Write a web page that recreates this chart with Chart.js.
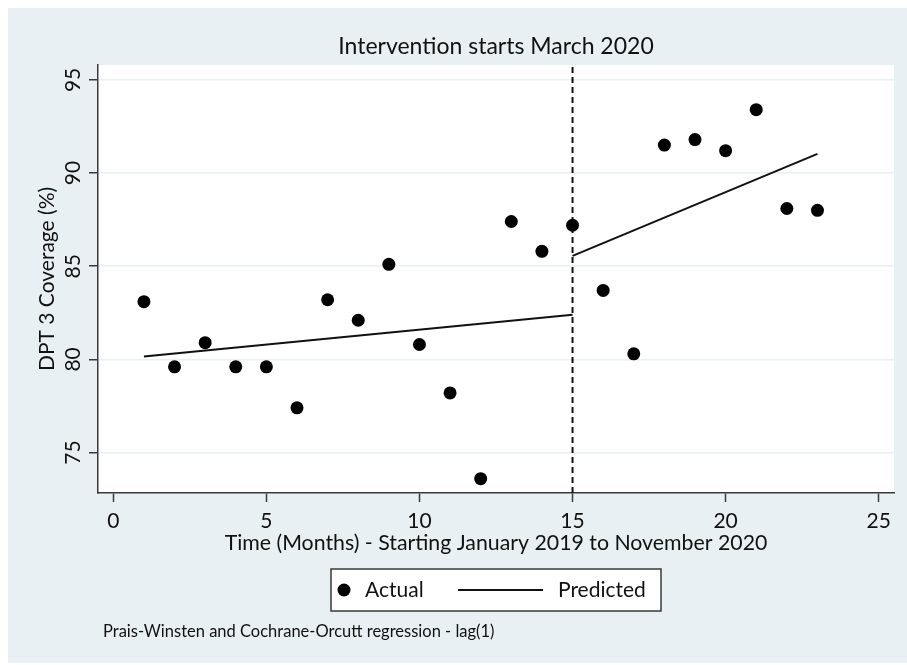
<!DOCTYPE html>
<html>
<head>
<meta charset="utf-8">
<script src="https://cdn.jsdelivr.net/npm/chart.js@4.4.1/dist/chart.umd.min.js"></script>
<style>
  html, body { margin: 0; padding: 0; background: #ffffff; }
  #wrap { width: 907px; height: 665px; position: relative; }
  canvas { display: block; }
</style>
</head>
<body>
<div id="wrap"><canvas id="c" width="907" height="665"></canvas></div>
<script>
// ---- data ----
const months = [1, 2, 3, 4, 5, 6, 7, 8, 9, 10, 11, 12, 13, 14, 15, 16, 17, 18, 19, 20, 21, 22, 23];
const actualCoverage = [83.1, 79.6, 80.9, 79.6, 79.6, 77.4, 83.2, 82.1, 85.1, 80.8, 78.2, 73.6,
                        87.4, 85.8, 87.2, 83.7, 80.3, 91.5, 91.8, 91.2, 93.4, 88.1, 88.0];
const predPreMonths = [1, 15];
const predPreValues = [80.15, 82.4];
const predPostMonths = [15, 23];
const predPostValues = [85.56, 91.03];
const interventionMonth = 15;

const xAxisMin = -0.5, xAxisMax = 25.5, xStep = 5;
const yAxisMin = 72.83, yAxisMax = 95.8, yStep = 5;

const chartTitle = 'Intervention starts March 2020';
const xTitle = 'Time (Months) - Starting January 2019 to November 2020';
const yTitle = 'DPT 3 Coverage (%)';
const legendLabels = ['Actual', 'Predicted'];
const footnote = 'Prais-Winsten and Cochrane-Orcutt regression - lag(1)';

// ---- styles ----
const FONT = 'Lato, "Open Sans", "DejaVu Sans", sans-serif';
const TEXT = '#111111';
const AXIS = '#3a3a3a';
const BG = '#e9f0f3';
const GRID = '#e8f0f3';

Chart.defaults.font.family = FONT;
Chart.defaults.color = TEXT;

const toPts = (xs, ys) => xs.map((x, i) => ({ x: x, y: ys[i] }));

const decorPlugin = {
  id: 'decor',
  beforeDraw(chart) {
    const ctx = chart.ctx, a = chart.chartArea;
    ctx.save();
    ctx.fillStyle = '#ffffff';
    ctx.fillRect(0, 0, chart.width, chart.height);
    ctx.fillStyle = BG;
    ctx.fillRect(8, 8, chart.width - 8, chart.height - 10);
    ctx.fillStyle = '#ffffff';
    ctx.fillRect(a.left, a.top, a.right - a.left, a.bottom - a.top);
    ctx.restore();
  },
  afterDraw(chart) {
    const ctx = chart.ctx, a = chart.chartArea;
    const cx = (a.left + a.right) / 2;
    ctx.save();
    // title
    ctx.fillStyle = TEXT;
    ctx.font = '23px ' + FONT;
    ctx.textAlign = 'center';
    ctx.textBaseline = 'middle';
    ctx.fillText(chartTitle, cx, 47);

    // legend box
    const ly = 590;
    ctx.fillStyle = '#ffffff';
    ctx.fillRect(cx - 165, 569, 330, 42);
    ctx.strokeStyle = AXIS;
    ctx.lineWidth = 1.5;
    ctx.strokeRect(cx - 165, 569, 330, 42);
    // actual marker
    ctx.fillStyle = '#000000';
    ctx.beginPath();
    ctx.arc(cx - 152, ly, 6.5, 0, Math.PI * 2);
    ctx.fill();
    ctx.fillStyle = TEXT;
    ctx.font = '21px ' + FONT;
    ctx.textAlign = 'left';
    ctx.fillText(legendLabels[0], cx - 131, ly);
    // predicted line
    ctx.strokeStyle = '#111111';
    ctx.lineWidth = 2;
    ctx.beginPath();
    ctx.moveTo(cx - 38, ly);
    ctx.lineTo(cx + 47, ly);
    ctx.stroke();
    ctx.fillText(legendLabels[1], cx + 62, ly);

    // footnote
    ctx.font = '16.5px ' + FONT;
    ctx.fillText(footnote, 103, 632);
    ctx.restore();
  }
};

new Chart(document.getElementById('c'), {
  type: 'scatter',
  data: {
    datasets: [
      {
        label: legendLabels[0],
        data: toPts(months, actualCoverage),
        backgroundColor: '#000000',
        borderWidth: 0,
        pointRadius: 6.5,
        showLine: false
      },
      {
        label: legendLabels[1],
        data: toPts(predPreMonths, predPreValues),
        showLine: true,
        borderColor: '#111111',
        borderWidth: 2,
        pointRadius: 0
      },
      {
        label: legendLabels[1] + ' (post)',
        data: toPts(predPostMonths, predPostValues),
        showLine: true,
        borderColor: '#111111',
        borderWidth: 2,
        pointRadius: 0
      },
      {
        label: 'Intervention',
        data: toPts([interventionMonth, interventionMonth], [yAxisMin, yAxisMax]),
        showLine: true,
        borderColor: '#111111',
        borderWidth: 2,
        borderDash: [6, 4],
        pointRadius: 0
      }
    ]
  },
  options: {
    responsive: false,
    animation: false,
    devicePixelRatio: 1,
    layout: { padding: { left: 0, right: 13, top: 65, bottom: 92 } },
    plugins: {
      legend: { display: false },
      title: { display: false },
      tooltip: { enabled: false }
    },
    scales: {
      x: {
        type: 'linear',
        min: xAxisMin,
        max: xAxisMax,
        ticks: { stepSize: xStep, includeBounds: false, font: { size: 21 }, color: TEXT, padding: 7, maxRotation: 0 },
        grid: { drawOnChartArea: false, drawTicks: true, tickLength: 9, tickColor: AXIS, tickWidth: 1.5 },
        border: { display: true, color: AXIS, width: 1.5 },
        title: { display: true, text: xTitle, font: { size: 21.3 }, color: TEXT, padding: { top: 0, bottom: 17 } },
        afterFit(s) { s.height = 80; }
      },
      y: {
        type: 'linear',
        min: yAxisMin,
        max: yAxisMax,
        ticks: { stepSize: yStep, includeBounds: false, font: { size: 21 }, color: TEXT, padding: 4,
                 minRotation: 90, maxRotation: 90, crossAlign: 'center' },
        grid: { drawOnChartArea: true, color: GRID, lineWidth: 1.5, drawTicks: true, tickLength: 9, tickColor: AXIS, tickWidth: 1.5 },
        border: { display: true, color: AXIS, width: 1.5 },
        title: { display: true, text: yTitle, font: { size: 21 }, color: TEXT, padding: { top: 34.5, bottom: 0 } },
        afterFit(s) { s.width = 98; }
      }
    }
  },
  plugins: [decorPlugin]
});
</script>
</body>
</html>
